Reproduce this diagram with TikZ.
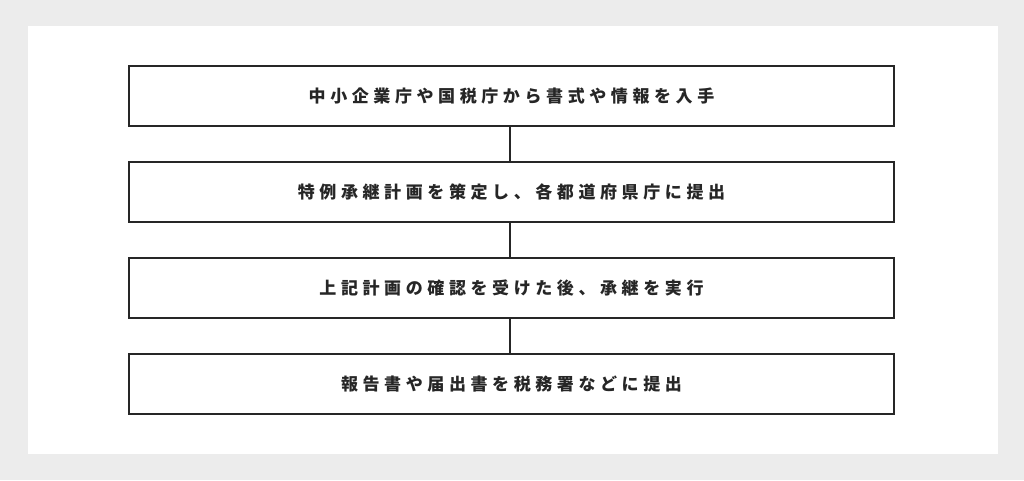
\documentclass[tikz,border=0pt]{standalone}
\usepackage{fontspec}
\newfontfamily\cjk{Noto Sans CJK JP}[LetterSpace=27]
\begin{document}
\begin{tikzpicture}[x=1pt,y=-1pt,
  stepbox/.style={draw=black!85,line width=2pt,minimum width=765pt,minimum height=60pt,font=\cjk\bfseries\fontsize{17}{19}\selectfont,text=black!85},
  link/.style={draw=black!85,line width=2pt}]
\fill[gray!15] (0,0) rectangle (1024,480);
\fill[white] (28,26) rectangle (998,454);
\useasboundingbox (0,0) rectangle (1024,480);
\node[stepbox] (a) at (511.5,96) {中小企業庁や国税庁から書式や情報を入手};
\node[stepbox] (b) at (511.5,192) {特例承継計画を策定し、各都道府県庁に提出};
\node[stepbox] (c) at (511.5,288) {上記計画の確認を受けた後、承継を実行};
\node[stepbox] (d) at (511.5,384) {報告書や届出書を税務署などに提出};
\draw[link] (a.south -| 510,0) -- (b.north -| 510,0);
\draw[link] (b.south -| 510,0) -- (c.north -| 510,0);
\draw[link] (c.south -| 510,0) -- (d.north -| 510,0);
\end{tikzpicture}
\end{document}
